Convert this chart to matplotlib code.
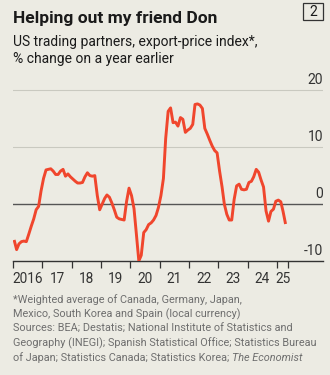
import matplotlib
matplotlib.use("Agg")
import matplotlib.pyplot as plt
from matplotlib.patches import Rectangle
import pandas as pd

plt.rcParams['font.family'] = ['Roboto', 'DejaVu Sans']

# Monthly export-price index of US trading partners, % change y/y
months = pd.date_range("2016-01-01", periods=112, freq="MS")
values = [
    # 2016
    -6.3, -8.0, -7.0, -6.6, -6.5, -6.6, -5.3, -3.9, -2.6, -1.0, -0.4, 2.3,
    # 2017
    4.5, 6.0, 6.1, 6.2, 5.8, 5.2, 5.2, 5.8, 6.1, 4.9, 5.3, 4.8,
    # 2018
    4.4, 4.0, 3.7, 3.7, 3.8, 4.8, 5.5, 5.0, 4.9, 5.0, 1.5, -1.0,
    # 2019
    0.0, 1.0, 1.6, 1.2, 0.2, -1.0, -2.3, -2.6, -2.7, -2.8, 0.5, 2.8,
    # 2020
    1.5, -0.8, -5.2, -10.0, -9.0, -5.0, -4.5, -3.6, -3.3, -2.8, -2.0, -0.6,
    # 2021
    1.5, 4.5, 11.5, 16.3, 16.9, 14.3, 14.4, 13.7, 15.2, 14.9, 12.6, 13.0,
    # 2022
    13.3, 14.0, 17.5, 17.6, 17.4, 16.8, 13.3, 12.3, 11.2, 10.2, 9.4, 9.0,
    # 2023
    5.8, 3.0, 0.0, -1.8, -2.8, -2.8, 0.8, 3.2, 3.5, 2.6, 2.5, 2.6,
    # 2024
    3.8, 4.0, 4.8, 6.1, 5.6, 4.2, 3.0, -1.2, -3.0, -1.3, -0.9, 0.5,
    # 2025
    0.7, 0.4, -1.3, -3.5,
]
year_labels = ["2016", "17", "18", "19", "20", "21", "22", "23", "24", "25"]
y_ticks = [-10, 0, 10, 20]

title = "Helping out my friend Don"
subtitle_lines = ["US trading partners, export-price index*,",
                  "% change on a year earlier"]
footnote_lines = ["*Weighted average of Canada, Germany, Japan,",
                  "Mexico, South Korea and Spain (local currency)",
                  "Sources: BEA; Destatis; National Institute of Statistics and",
                  "Geography (INEGI); Spanish Statistical Office; Statistics Bureau",
                  "of Japan; Statistics Canada; Statistics Korea; "]
publication = "The Economist"

BG = "#ECEBE3"
RED = "#F0462D"
INK = "#1a1a1a"
GREY = "#6e6e6e"

W, H = 330, 375
fig = plt.figure(figsize=(W / 100, H / 100), dpi=100, facecolor=BG)


def fx(px):
    return px / W


def fy(py):
    return 1 - py / H


ax = fig.add_axes([fx(13), fy(261), fx(323) - fx(13), fy(80) - fy(261)])
ax.set_facecolor(BG)

# mid-month positions for each observation
x = months + pd.Timedelta(days=14)
ax.plot(x, values, color=RED, lw=2.1, solid_capstyle="butt",
        solid_joinstyle="round", zorder=3)

start = pd.Timestamp("2016-01-01")
end_tick = pd.Timestamp("2025-05-20")
ax.set_xlim(start, pd.Timestamp("2026-07-25"))
ax.set_ylim(-10, 21.8)

# gridlines, with value labels sitting above them on the right
for v in y_ticks:
    if v == -10:
        continue
    ax.axhline(v, color="#555555" if v == 0 else "#c9c9c0",
               lw=1.0 if v == 0 else 0.8, zorder=1)
for v in y_ticks:
    ax.text(1.0, v + 0.5, str(v), transform=ax.get_yaxis_transform(),
            ha="right", va="bottom", fontsize=10, color="#333333",
            clip_on=False)

for s in ["top", "right", "left"]:
    ax.spines[s].set_visible(False)
ax.spines["bottom"].set_color("#333333")
ax.spines["bottom"].set_linewidth(1.0)
ax.set_yticks([])

year_starts = [pd.Timestamp(f"{2016 + i}-01-01") for i in range(10)]
ax.set_xticks(year_starts + [end_tick])
ax.tick_params(axis="x", length=5, width=0.9, color="#333333",
               labelbottom=False)

# year labels centred in each interval
bounds = year_starts + [end_tick]
for i, lab in enumerate(year_labels):
    mid = bounds[i] + (bounds[i + 1] - bounds[i]) / 2
    ax.text(mid, fy(283), lab, transform=ax.get_xaxis_transform() if False else
            matplotlib.transforms.blended_transform_factory(ax.transData, fig.transFigure),
            ha="center", va="baseline", fontsize=9.8, color="#333333")

fig.text(fx(13), fy(23), title, fontsize=12.5, fontweight="bold",
         color=INK, va="baseline", ha="left")
for i, line in enumerate(subtitle_lines):
    fig.text(fx(13), fy(46 + i * 17), line, fontsize=10, color=INK,
             va="baseline", ha="left")

fig.patches.append(Rectangle((fx(303), fy(20)), fx(20), fy(3) - fy(20),
                             transform=fig.transFigure, fill=False,
                             edgecolor="#333333", lw=0.9))
fig.text(fx(313), fy(16.5), "2", fontsize=10, color=INK,
         ha="center", va="baseline")

fn_size = 7.8
last_txt = None
for i, line in enumerate(footnote_lines):
    last_txt = fig.text(fx(13), fy(303 + i * 14.5), line, fontsize=fn_size,
                        color=GREY, va="baseline", ha="left")
fig.canvas.draw()
x1 = last_txt.get_window_extent().x1
fig.text(x1 / fig.bbox.width, fy(303 + 4 * 14.5), publication,
         fontsize=fn_size, color=GREY, style="italic",
         va="baseline", ha="left")

fig.savefig("out.png", dpi=100, facecolor=BG)
